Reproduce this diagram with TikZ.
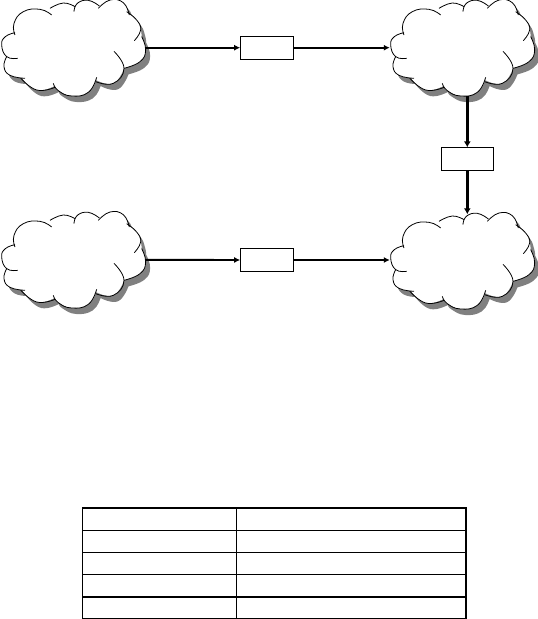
\documentclass[tikz,border=0pt]{standalone}
\usetikzlibrary{arrows.meta}
\newcommand{\cloudmain}{
plot[smooth,tension=0.8] coordinates {(45,98)(16,110)(5,135)(20,170)}
-- plot[smooth,tension=0.8] coordinates {(20,170)(12,200)(30,226)(65,234)}
-- plot[smooth,tension=0.8] coordinates {(65,234)(110,270)(163,258)}
-- plot[smooth,tension=0.8] coordinates {(163,258)(175,272)(215,288)(265,277)(288,240)}
-- plot[smooth,tension=0.8] coordinates {(288,240)(340,250)(372,205)}
-- plot[smooth,tension=0.8] coordinates {(372,205)(420,185)(437,150)(425,110)}
-- plot[smooth,tension=0.8] coordinates {(425,110)(422,90)(410,60)(385,42)}
-- plot[smooth,tension=0.8] coordinates {(385,42)(370,8)(330,0)(296,20)}
-- plot[smooth,tension=0.8] coordinates {(296,20)(265,1)(232,10)(224,22)}
-- plot[smooth,tension=0.8] coordinates {(224,22)(190,9)(152,38)}
-- plot[smooth,tension=0.8] coordinates {(152,38)(120,28)(70,35)(42,70)(45,98)} -- cycle}
\newcommand{\cloudarcs}{
\draw[cloudline] plot[smooth,tension=0.8] coordinates {(45,98)(16,110)(5,135)(20,170)(53,175)};
\draw[cloudline] plot[smooth,tension=0.8] coordinates {(20,170)(12,200)(30,226)(75,235)};
\draw[cloudline] plot[smooth,tension=0.8] coordinates {(62,234)(110,270)(165,262)};
\draw[cloudline] plot[smooth,tension=0.8] coordinates {(160,250)(175,272)(215,288)(265,277)(290,232)};
\draw[cloudline] plot[smooth,tension=0.8] coordinates {(287,245)(340,250)(372,205)(342,154)};
\draw[cloudline] plot[smooth,tension=0.8] coordinates {(372,205)(420,185)(437,150)(425,110)};
\draw[cloudline] plot[smooth,tension=0.8] coordinates {(403,122)(422,90)(410,60)(380,35)};
\draw[cloudline] plot[smooth,tension=0.8] coordinates {(388,45)(370,8)(330,0)(295,25)};
\draw[cloudline] plot[smooth,tension=0.8] coordinates {(298,18)(265,1)(232,10)(222,35)};
\draw[cloudline] plot[smooth,tension=0.8] coordinates {(225,20)(190,9)(150,25)};
\draw[cloudline] plot[smooth,tension=0.8] coordinates {(155,45)(120,28)(70,35)(42,70)(45,105)};
}
\newcommand{\cloudat}[2]{
\begin{scope}[xshift=#1pt,yshift=-#2pt,x=0.3333pt,y=-0.3333pt]
\begin{scope}[xshift=4.5pt,yshift=-6pt]
\fill[cloudshadow] \cloudmain;
\end{scope}
\fill[white] \cloudmain;
\cloudarcs
\end{scope}}
\tikzset{
 cloudline/.style={black,line width=0.8pt},
 cloudshadow/.style={fill=black!50},
 cloudanchor/.style={inner sep=0,minimum width=144pt,minimum height=97pt},
 labelbox/.style={draw=black,line width=0.8pt,fill=white,inner sep=0,minimum width=52.5pt,minimum height=23pt},
 link/.style={black,line width=1.9pt,-{Latex[length=6pt,width=6pt]}},
 drop/.style={black,line width=2.8pt,-{Latex[length=6pt,width=7pt]}},
 thinrule/.style={black,line width=0.8pt},
 heavyrule/.style={black,line width=1.5pt},
}
\begin{document}
\begin{tikzpicture}[x=1pt,y=-1pt]
\useasboundingbox (0,0) rectangle (538,619);
\fill[white] (0,0) rectangle (538,619);
\cloudat{0}{0}
\cloudat{389}{0}
\cloudat{0}{212}
\cloudat{389}{213}
\node[cloudanchor] (c1) at (73,47.7) {};
\node[cloudanchor] (c2) at (462,47.7) {};
\node[cloudanchor] (c3) at (73,259.8) {};
\node[cloudanchor] (c4) at (462,263) {};
\node[labelbox] (b1) at (266.8,47.7) {};
\node[labelbox] (b2) at (266.8,260) {};
\node[labelbox] (b3) at (467.3,159.3) {};
\draw[link] (c1.east) -- (b1.west);
\draw[link] (b1.east) -- (c2.west |- b1.east);
\draw[link] (c3.east) -- (b2.west);
\draw[link] (b2.east) -- (c4.west |- b2.east);
\draw[drop] (c2.south -| b3.north) -- (b3.north);
\draw[drop] (b3.south) -- (c4.north -| b3.south);
% table
\draw[heavyrule] (82.7,508) -- (466,508);
\draw[heavyrule] (82.7,507.3) -- (82.7,619);
\draw[heavyrule] (466,507.3) -- (466,619);
\draw[thinrule] (236.3,508) -- (236.3,619);
\draw[thinrule] (82.7,530) -- (466,530);
\draw[thinrule] (82.7,552.2) -- (466,552.2);
\draw[thinrule] (82.7,574.3) -- (466,574.3);
\draw[heavyrule] (82.7,596.8) -- (466,596.8);
\draw[heavyrule] (82,618.6) -- (466.7,618.6);
\end{tikzpicture}
\end{document}
